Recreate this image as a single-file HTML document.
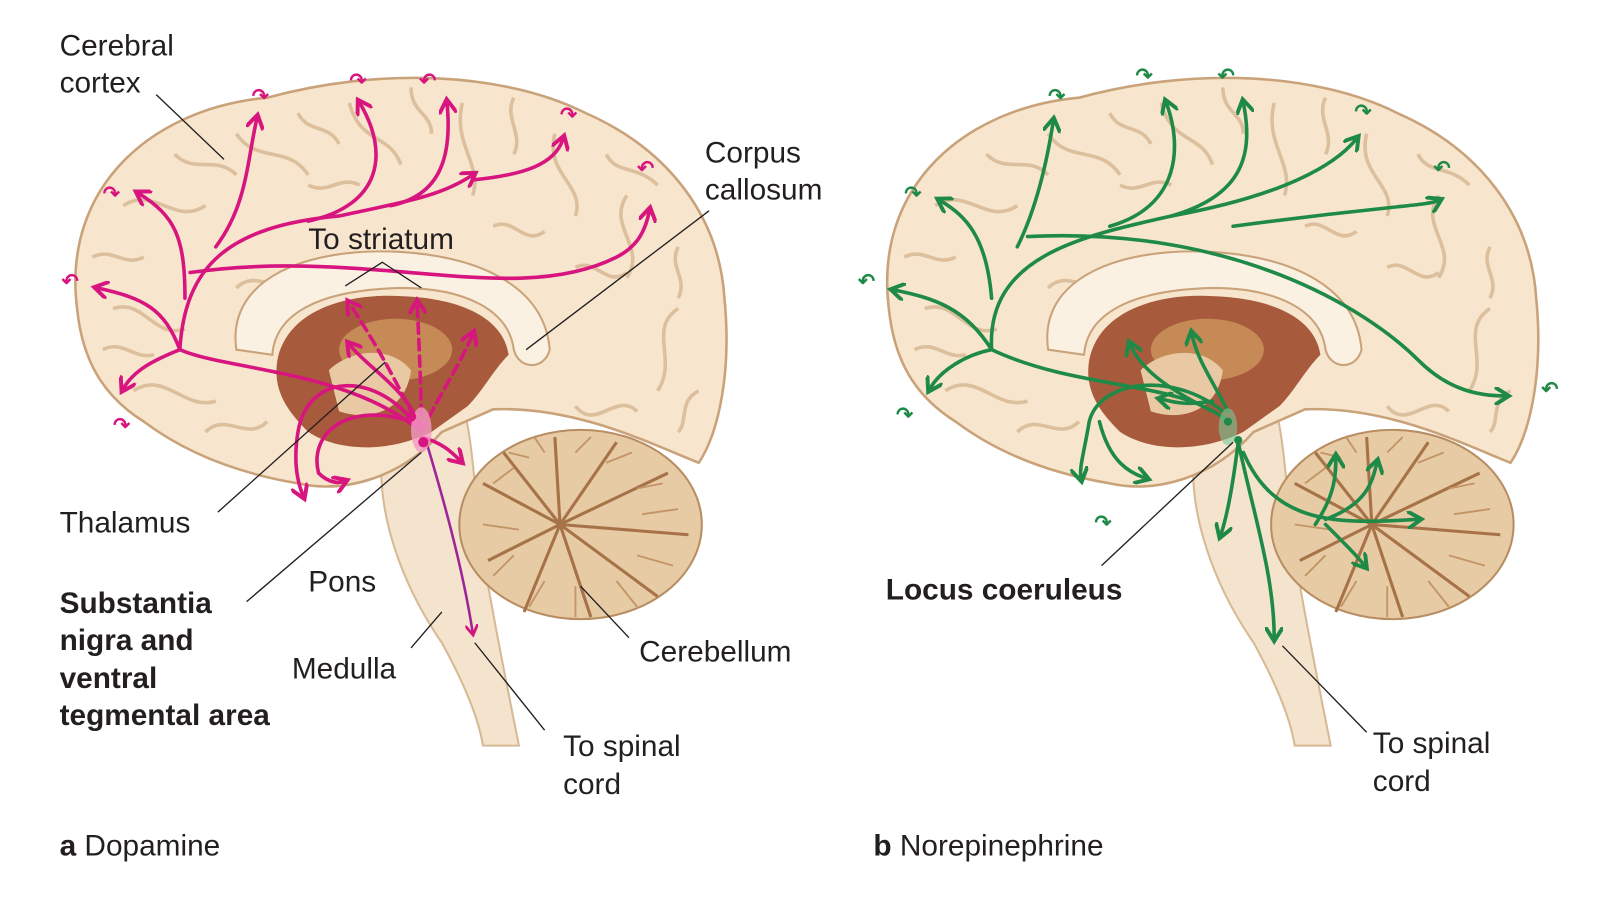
<!DOCTYPE html>
<html><head><meta charset="utf-8"><style>
html,body{margin:0;padding:0;background:#fff;}
svg{display:block}
text{font-family:"Liberation Sans",sans-serif;fill:#231f20;}
</style></head><body>
<svg width="1603" height="905" viewBox="0 0 1560 880" preserveAspectRatio="none" xmlns="http://www.w3.org/2000/svg">
<defs>
<marker id="am" viewBox="0 0 10 10" refX="6" refY="5" markerWidth="5" markerHeight="5" orient="auto"><path d="M0,0 L8,5 L0,10" fill="none" stroke="#d8157f" stroke-width="2.2"/></marker>
<marker id="ag" viewBox="0 0 10 10" refX="6" refY="5" markerWidth="5" markerHeight="5" orient="auto"><path d="M0,0 L8,5 L0,10" fill="none" stroke="#1f8a47" stroke-width="2.2"/></marker>
<g id="brain">
  <path d="M372 440 C366 500 392 570 430 625 C452 665 466 700 470 725 L505 725 C492 660 480 600 470 540 C462 480 460 430 452 400 Z" fill="#f4e4cd" stroke="#d7b996" stroke-width="2"/>
  <ellipse cx="565" cy="510" rx="118" ry="92" fill="#e6cba4" stroke="#b98d62" stroke-width="2"/>
  <g stroke="#a77248" stroke-width="3" fill="none">
    <path d="M545 510 L470 470 M545 510 L490 440 M545 510 L540 425 M545 510 L600 430 M545 510 L650 460 M545 510 L670 520 M545 510 L640 580 M545 510 L575 600 M545 510 L510 595 M545 510 L475 545"/>
  </g>
  <g stroke="#c39466" stroke-width="1.8" fill="none">
    <path d="M500 455 L480 470 M495 440 L515 445 M530 440 L520 425 M560 440 L575 425 M590 450 L615 440 M620 475 L645 470 M625 500 L660 495 M620 540 L655 550 M600 565 L620 590 M560 570 L560 600 M530 565 L515 590 M500 540 L480 560 M505 515 L470 510"/>
  </g>
  <path d="M75 300 C60 180 150 105 260 95 C370 65 490 70 570 110 C650 145 700 210 705 290 C712 360 700 420 680 450 C630 430 560 395 480 398 L430 420 C390 465 335 480 290 470 C230 460 180 440 140 410 C100 385 80 350 75 300 Z" fill="#f7e6cd" stroke="#c9a27a" stroke-width="2.5"/>
  <g fill="none" stroke="#dcbf9c" stroke-width="3.5">
    <path d="M120 200 C150 180 170 220 200 200 M230 130 C250 160 280 140 300 170 M340 100 C350 140 380 130 390 160 M450 100 C440 140 470 160 460 190 M540 130 C530 170 570 180 560 210 M610 190 C590 220 630 240 610 270 M660 300 C630 320 660 350 640 380 M110 300 C140 290 150 330 180 320 M130 380 C160 360 180 400 210 390 M620 400 C600 380 580 420 560 395"/>
    <path d="M90 250 C110 240 120 260 140 250 M170 150 C190 170 210 150 230 170 M290 110 C300 130 320 120 330 140 M400 85 C400 110 420 110 420 130 M500 95 C490 115 510 130 500 150 M590 150 C600 170 620 160 640 180 M660 240 C650 260 670 270 660 290 M680 380 C660 390 670 410 660 420 M200 420 C220 400 240 430 260 410 M100 340 C120 330 130 350 150 345 M230 280 C250 260 270 290 290 270 M560 260 C580 250 590 280 610 265 M480 220 C500 210 510 240 530 225 M300 180 C320 190 330 170 350 180"/>
  </g>
  <path d="M230 340 C220 270 300 240 390 245 C470 250 530 280 535 340 C530 360 505 360 500 340 C495 300 450 280 390 280 C310 282 268 305 265 345 Z" fill="#fbf1e3" stroke="#c9a27a" stroke-width="2"/>
  <path d="M270 350 C280 300 340 285 390 288 C450 290 490 310 495 345 C480 360 470 380 455 395 L420 420 C380 440 330 440 300 420 C280 400 265 380 270 350 Z" fill="#a75a3c"/>
  <ellipse cx="385" cy="340" rx="55" ry="30" fill="#c58a55"/>
  <path d="M320 360 C340 340 380 335 400 360 C395 400 360 410 330 400 Z" fill="#e9c9a4"/>
</g>
</defs>

<use href="#brain"/>
<use href="#brain" transform="translate(790,0)"/>

<g fill="none" stroke="#d8157f" stroke-width="3.5" stroke-linecap="round">
  <path d="M410 420 C340 360 220 360 175 340 C180 260 220 220 330 210 C400 195 430 190 460 170" marker-end="url(#am)"/>
  <path d="M175 340 C160 300 140 290 95 280" marker-end="url(#am)"/>
  <path d="M175 340 C150 350 130 360 120 378" marker-end="url(#am)"/>
  <path d="M180 290 C180 230 170 210 135 188" marker-end="url(#am)"/>
  <path d="M210 240 C240 200 240 160 250 115" marker-end="url(#am)"/>
  <path d="M300 215 C370 200 380 150 350 100" marker-end="url(#am)"/>
  <path d="M380 200 C430 190 440 150 435 100" marker-end="url(#am)"/>
  <path d="M460 175 C510 170 540 160 548 135" marker-end="url(#am)"/>
  <path d="M185 265 C360 240 500 300 600 250 C620 240 628 225 632 205" marker-end="url(#am)"/>
  <path d="M410 420 C370 360 300 360 290 420 C285 450 290 470 295 482" marker-end="url(#am)"/>
  <path d="M400 410 C340 390 300 420 310 460 C320 470 330 470 335 468" marker-end="url(#am)"/>
  <path d="M410 420 C400 380 360 360 340 335" marker-end="url(#am)"/>
  <path d="M410 425 C430 430 440 440 448 448" marker-end="url(#am)"/>
  <path d="M410 420 C390 380 370 340 340 295" stroke-dasharray="10 6" marker-end="url(#am)"/>
  <path d="M410 420 C410 380 408 340 406 295" stroke-dasharray="10 6" marker-end="url(#am)"/>
  <path d="M410 420 C430 380 450 350 460 325" stroke-dasharray="10 6" marker-end="url(#am)"/>
  <path d="M415 430 C430 480 450 550 460 615" stroke="#a0239a" stroke-width="2.5" marker-end="url(#am)"/>
</g>
<ellipse cx="410" cy="418" rx="10" ry="22" fill="#f29bc4" opacity="0.8"/>
<circle cx="412" cy="430" r="5" fill="#d8157f"/><circle cx="400" cy="405" r="5" fill="#d8157f"/>
<g font-size="20" font-weight="bold"><text x="245" y="100" style="fill:#d8157f">↷</text><text x="340" y="85" style="fill:#d8157f">↷</text><text x="408" y="85" style="fill:#d8157f">↶</text><text x="545" y="118" style="fill:#d8157f">↷</text><text x="620" y="170" style="fill:#d8157f">↶</text><text x="100" y="195" style="fill:#d8157f">↷</text><text x="60" y="280" style="fill:#d8157f">↶</text><text x="110" y="420" style="fill:#d8157f">↷</text></g>

<g fill="none" stroke="#1f8a47" stroke-width="3.5" stroke-linecap="round">
  <path d="M1195 410 C1150 370 1050 380 965 340 C960 250 1050 230 1140 210 C1250 190 1300 160 1320 135" marker-end="url(#ag)"/>
  <path d="M965 340 C940 300 910 290 870 282" marker-end="url(#ag)"/>
  <path d="M965 340 C940 345 915 360 905 378" marker-end="url(#ag)"/>
  <path d="M965 290 C960 230 940 210 915 195" marker-end="url(#ag)"/>
  <path d="M990 240 C1010 200 1020 150 1025 118" marker-end="url(#ag)"/>
  <path d="M1080 220 C1150 200 1150 140 1135 100" marker-end="url(#ag)"/>
  <path d="M1140 210 C1210 190 1220 150 1210 100" marker-end="url(#ag)"/>
  <path d="M1200 220 C1350 200 1390 200 1400 195" marker-end="url(#ag)"/>
  <path d="M1000 230 C1200 220 1330 300 1380 350 C1410 380 1440 385 1465 385" marker-end="url(#ag)"/>
  <path d="M1190 400 C1140 360 1070 370 1060 410 C1055 440 1050 455 1052 465" marker-end="url(#ag)"/>
  <path d="M1070 410 C1080 450 1100 460 1115 465" marker-end="url(#ag)"/>
  <path d="M1180 400 C1140 380 1110 360 1100 335" marker-end="url(#ag)"/>
  <path d="M1195 400 C1180 370 1165 350 1160 325" marker-end="url(#ag)"/>
  <path d="M1180 390 C1150 395 1140 390 1130 388" marker-end="url(#ag)"/>
  <path d="M1205 430 C1200 470 1195 500 1188 520" marker-end="url(#ag)"/>
  <path d="M1205 430 C1220 500 1240 560 1240 620" marker-end="url(#ag)"/>
  <path d="M1210 440 C1240 510 1300 510 1380 505" marker-end="url(#ag)"/>
  <path d="M1280 510 C1300 480 1300 460 1300 445" marker-end="url(#ag)"/>
  <path d="M1290 505 C1330 490 1335 470 1340 450" marker-end="url(#ag)"/>
  <path d="M1290 510 C1310 530 1320 540 1328 550" marker-end="url(#ag)"/>
</g>
<ellipse cx="1195" cy="415" rx="9" ry="18" fill="#7cc79a" opacity="0.6"/>
<circle cx="1205" cy="428" r="4" fill="#1f8a47"/><circle cx="1195" cy="410" r="4" fill="#1f8a47"/>
<g font-size="20" font-weight="bold"><text x="1020" y="100" style="fill:#1f8a47">↷</text><text x="1105" y="80" style="fill:#1f8a47">↷</text><text x="1185" y="80" style="fill:#1f8a47">↶</text><text x="1318" y="115" style="fill:#1f8a47">↷</text><text x="1395" y="170" style="fill:#1f8a47">↶</text><text x="880" y="195" style="fill:#1f8a47">↷</text><text x="835" y="280" style="fill:#1f8a47">↶</text><text x="872" y="410" style="fill:#1f8a47">↷</text><text x="1500" y="385" style="fill:#1f8a47">↶</text><text x="1065" y="515" style="fill:#1f8a47">↷</text></g>

<g stroke="#231f20" stroke-width="1.3" fill="none">
  <line x1="152" y1="92" x2="218" y2="155"/>
  <line x1="690" y1="205" x2="512" y2="340"/>
  <polyline points="336,278 372,255 410,280"/>
  <line x1="212" y1="498" x2="375" y2="352"/>
  <line x1="240" y1="585" x2="410" y2="440"/>
  <line x1="400" y1="630" x2="430" y2="595"/>
  <line x1="530" y1="710" x2="462" y2="625"/>
  <line x1="612" y1="620" x2="565" y2="570"/>
  <line x1="1072" y1="550" x2="1200" y2="430"/>
  <line x1="1330" y1="712" x2="1248" y2="628"/>
</g>

<g font-size="29">
  <text x="58" y="54">Cerebral</text><text x="58" y="90">cortex</text>
  <text x="686" y="158">Corpus</text><text x="686" y="194">callosum</text>
  <text x="300" y="242">To striatum</text>
  <text x="58" y="518">Thalamus</text>
  <text x="300" y="575">Pons</text>
  <text x="284" y="660">Medulla</text>
  <text x="622" y="643">Cerebellum</text>
  <text x="548" y="735">To spinal</text><text x="548" y="772">cord</text>
  <text x="1336" y="732">To spinal</text><text x="1336" y="769">cord</text>
  <g font-weight="bold"><text x="58" y="596">Substantia</text><text x="58" y="632">nigra and</text><text x="58" y="669">ventral</text><text x="58" y="705">tegmental area</text>
  <text x="862" y="583">Locus coeruleus</text></g>
  <text x="58" y="832"><tspan font-weight="bold">a</tspan>  Dopamine</text>
  <text x="850" y="832"><tspan font-weight="bold">b</tspan>  Norepinephrine</text>
</g>
</svg>
</body></html>
